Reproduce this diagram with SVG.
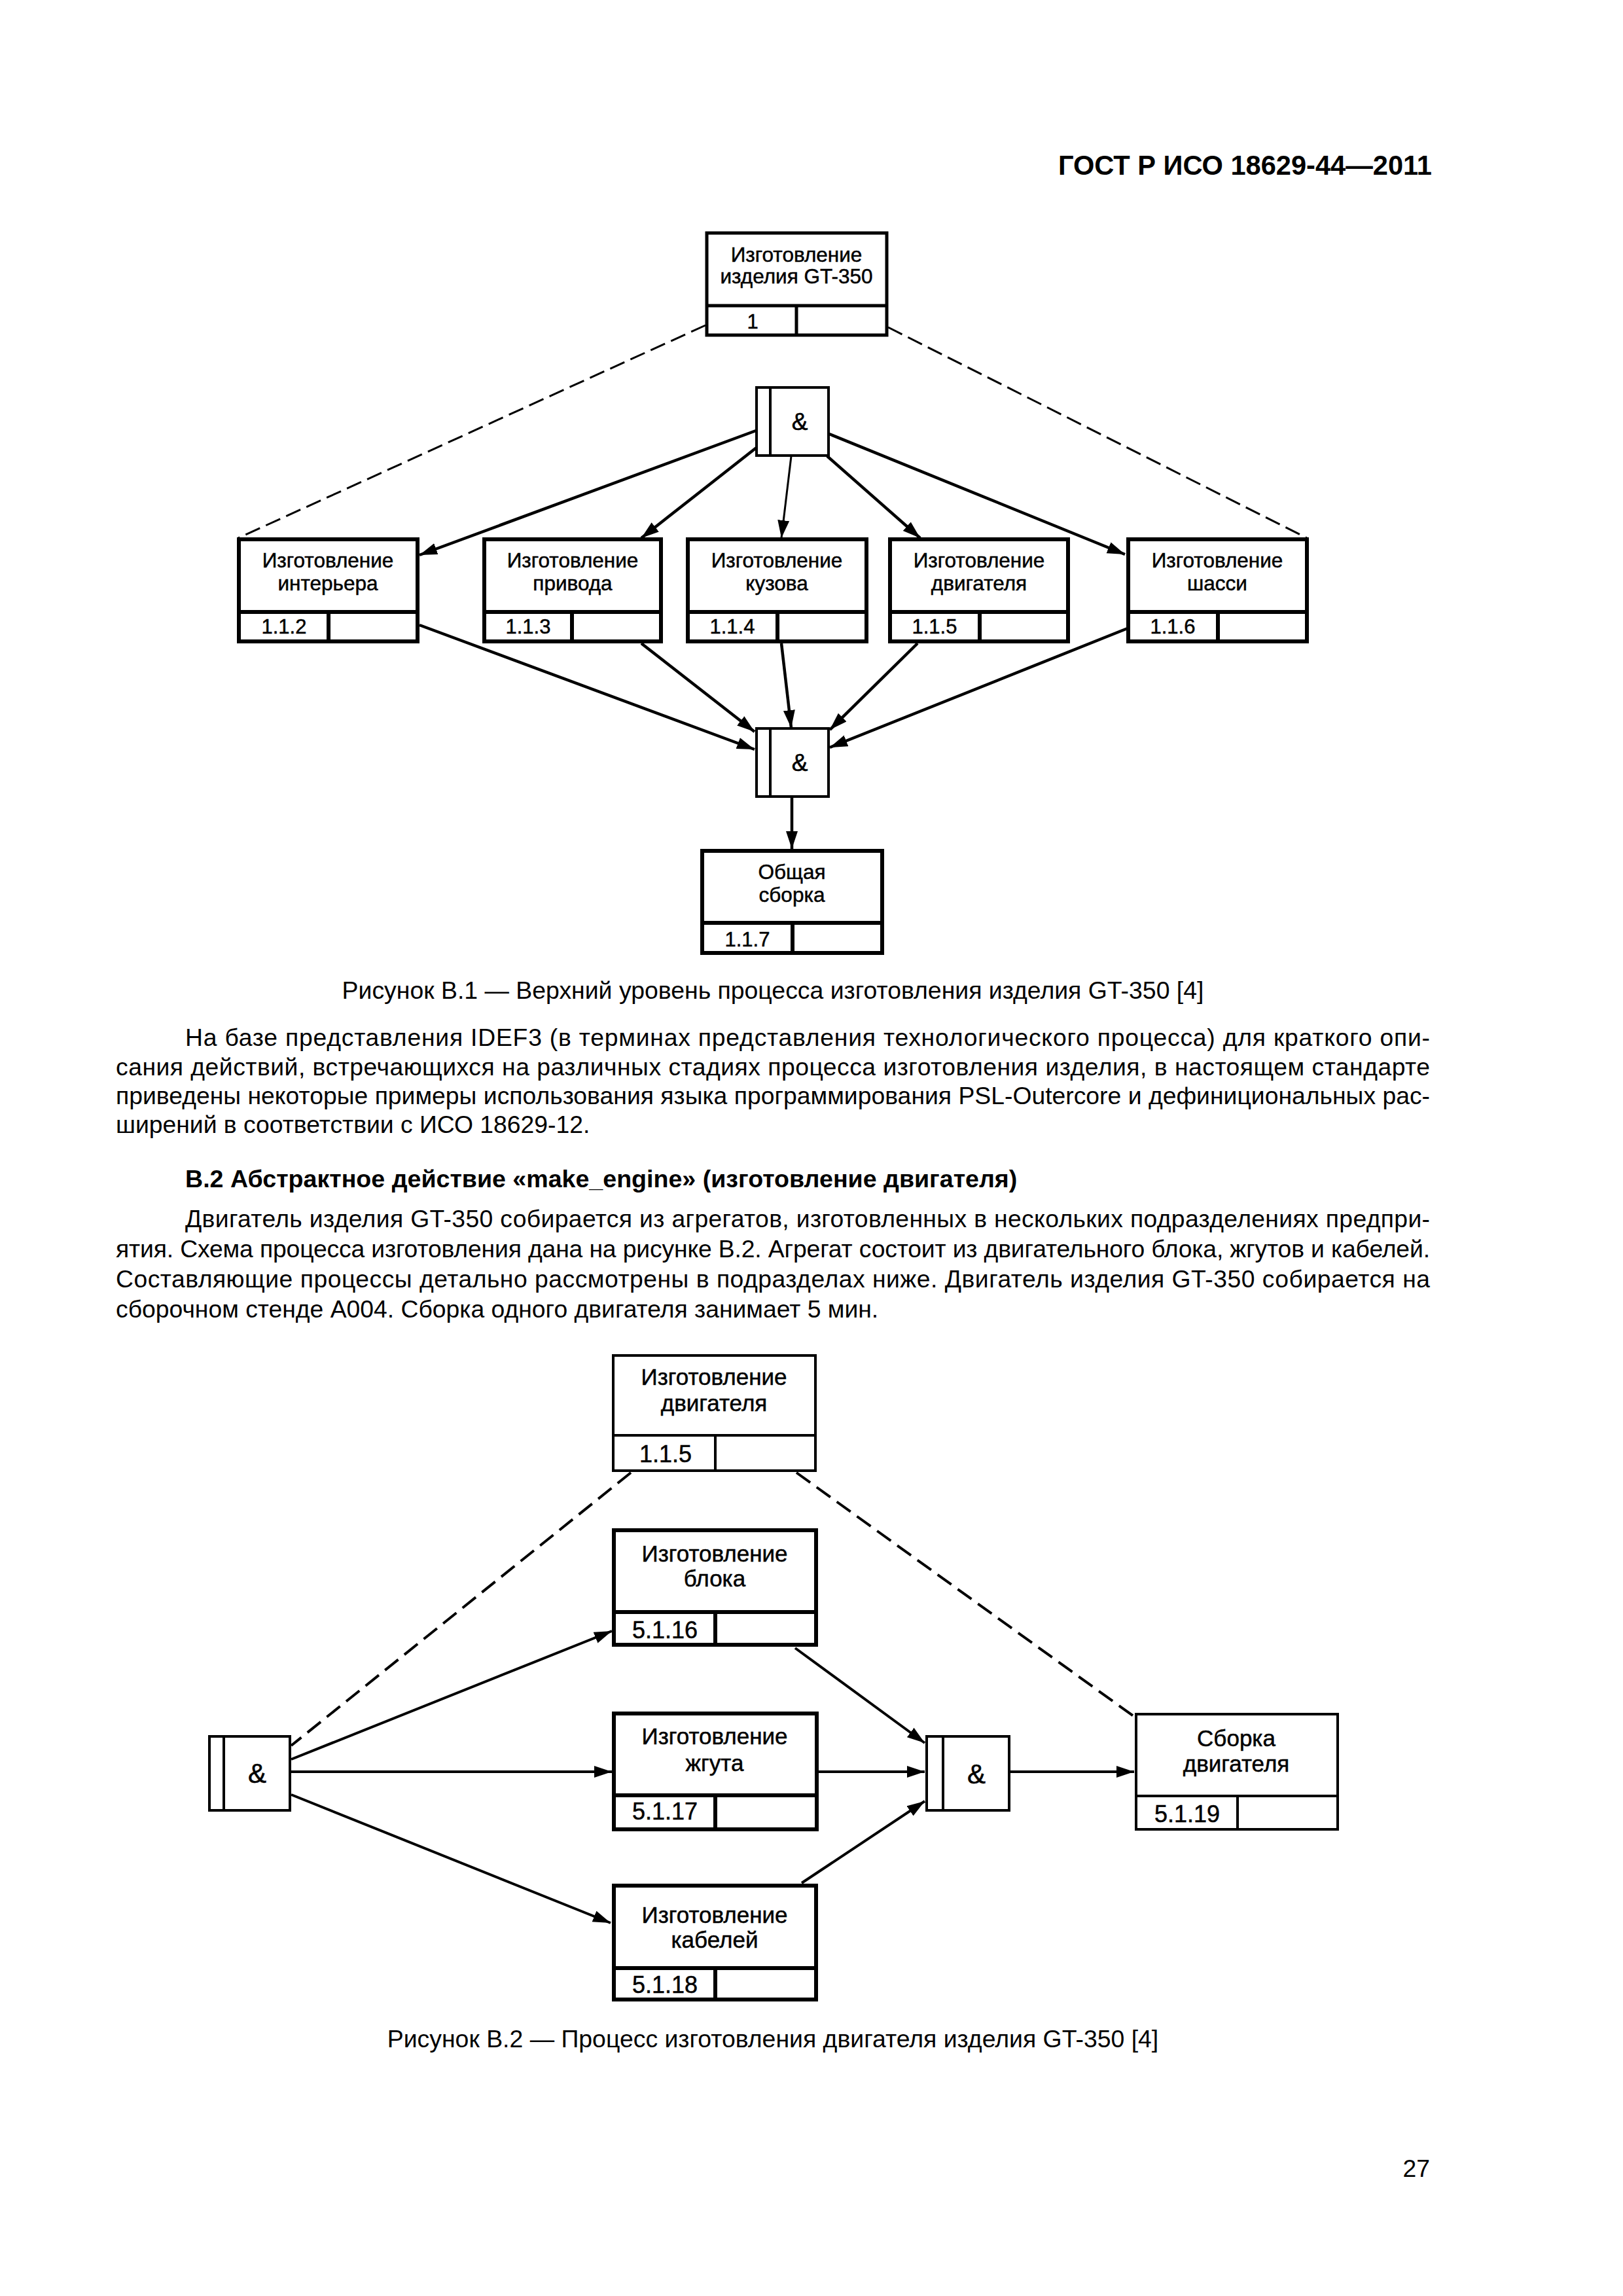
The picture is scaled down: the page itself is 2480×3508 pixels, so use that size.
<svg xmlns="http://www.w3.org/2000/svg" width="2480" height="3508" viewBox="0 0 2480 3508">
<style>
text{font-family:"Liberation Sans",Arial,sans-serif;fill:#000}
.b0{fill:#fff;stroke:#000;stroke-width:5}
.b1{fill:#fff;stroke:#000;stroke-width:6}
.b2{fill:#fff;stroke:#000;stroke-width:6}
.b3{fill:#fff;stroke:#000;stroke-width:4}
.g{fill:#fff;stroke:#000;stroke-width:4}
.dv0{stroke:#000;stroke-width:5}
.dv1{stroke:#000;stroke-width:6}
.dv2{stroke:#000;stroke-width:6}
.dv3{stroke:#000;stroke-width:4}
.t1{font-size:31.5px;text-anchor:middle;stroke:#000;stroke-width:0.5}
.n1{font-size:31px;text-anchor:middle;stroke:#000;stroke-width:0.5}
.t2{font-size:35px;text-anchor:middle;stroke:#000;stroke-width:0.5}
.n2{font-size:36px;text-anchor:middle;stroke:#000;stroke-width:0.5}
.amp1{font-size:37px;text-anchor:middle;stroke:#000;stroke-width:0.6}
.amp2{font-size:42px;text-anchor:middle;stroke:#000;stroke-width:0.6}
.body{font-size:37.3px}
.cap{font-size:37.4px;text-anchor:middle}
.hd{font-size:37.6px;font-weight:bold}
.a{stroke:#000;stroke-width:4.5;fill:none;marker-end:url(#ah)}
.a2{stroke:#000;stroke-width:4;fill:none;marker-end:url(#ah)}
.d{stroke:#000;stroke-width:3;fill:none;stroke-dasharray:24 10}
.d2{stroke:#000;stroke-width:4;fill:none;stroke-dasharray:26 12}
</style>
<defs>
<marker id="ah" markerUnits="userSpaceOnUse" markerWidth="30" markerHeight="20" refX="27" refY="9" orient="auto">
<path d="M0,0 L27,9 L0,18 z" fill="#000"/>
</marker>
</defs>

<text x="2188" y="267" font-size="41.6" font-weight="bold" text-anchor="end">ГОСТ Р ИСО 18629-44—2011</text>

<g id="connectors1">
<line class="d" x1="1078" y1="497" x2="364" y2="822"/>
<line class="d" x1="1357" y1="500" x2="1997" y2="822"/>
<line class="a" x1="1155" y1="658" x2="641" y2="848"/>
<line class="a" x1="1157" y1="683" x2="980" y2="822"/>
<line class="a" style="stroke-width:3" x1="1209" y1="697" x2="1194" y2="822"/>
<line class="a" x1="1264" y1="697" x2="1406" y2="822"/>
<line class="a" x1="1267" y1="663" x2="1719" y2="847"/>
<line class="a" x1="641" y1="955" x2="1153" y2="1145"/>
<line class="a" x1="980" y1="983" x2="1153" y2="1118"/>
<line class="a" x1="1194" y1="983" x2="1209" y2="1112"/>
<line class="a" x1="1402" y1="983" x2="1268" y2="1115"/>
<line class="a" x1="1723" y1="960" x2="1268" y2="1142"/>
<line class="a" x1="1210" y1="1217" x2="1210" y2="1297"/>
</g>

<g id="n1">
<rect class="b0" x="1080" y="356" width="275" height="156"/>
<line class="dv0" x1="1080" y1="467" x2="1355" y2="467"/>
<line class="dv0" x1="1217" y1="467" x2="1217" y2="512"/>
<text class="t1" x="1217" y="400">Изготовление</text>
<text class="t1" x="1217" y="433">изделия GT-350</text>
<text class="n1" x="1150" y="502">1</text>
</g>

<g id="gate1">
<rect class="g" x="1156" y="592" width="110" height="104"/>
<line class="dv3" x1="1177" y1="592" x2="1177" y2="696"/>
<text class="amp1" x="1222" y="657">&amp;</text>
</g>

<g id="n112">
<rect class="b1" x="365" y="824" width="273" height="156"/>
<line class="dv1" x1="365" y1="935" x2="638" y2="935"/>
<line class="dv1" x1="502" y1="935" x2="502" y2="980"/>
<text class="t1" x="501" y="867">Изготовление</text>
<text class="t1" x="501" y="902">интерьера</text>
<text class="n1" x="434" y="968">1.1.2</text>
</g>
<g id="n113">
<rect class="b1" x="740" y="824" width="270" height="156"/>
<line class="dv1" x1="740" y1="935" x2="1010" y2="935"/>
<line class="dv1" x1="874" y1="935" x2="874" y2="980"/>
<text class="t1" x="875" y="867">Изготовление</text>
<text class="t1" x="875" y="902">привода</text>
<text class="n1" x="807" y="968">1.1.3</text>
</g>
<g id="n114">
<rect class="b1" x="1051" y="824" width="273" height="156"/>
<line class="dv1" x1="1051" y1="935" x2="1324" y2="935"/>
<line class="dv1" x1="1188" y1="935" x2="1188" y2="980"/>
<text class="t1" x="1187" y="867">Изготовление</text>
<text class="t1" x="1187" y="902">кузова</text>
<text class="n1" x="1119" y="968">1.1.4</text>
</g>
<g id="n115">
<rect class="b1" x="1360" y="824" width="272" height="156"/>
<line class="dv1" x1="1360" y1="935" x2="1632" y2="935"/>
<line class="dv1" x1="1497" y1="935" x2="1497" y2="980"/>
<text class="t1" x="1496" y="867">Изготовление</text>
<text class="t1" x="1496" y="902">двигателя</text>
<text class="n1" x="1428" y="968">1.1.5</text>
</g>
<g id="n116">
<rect class="b1" x="1724" y="824" width="273" height="156"/>
<line class="dv1" x1="1724" y1="935" x2="1997" y2="935"/>
<line class="dv1" x1="1861" y1="935" x2="1861" y2="980"/>
<text class="t1" x="1860" y="867">Изготовление</text>
<text class="t1" x="1860" y="902">шасси</text>
<text class="n1" x="1792" y="968">1.1.6</text>
</g>

<g id="gate2">
<rect class="g" x="1156" y="1113" width="110" height="104"/>
<line class="dv3" x1="1177" y1="1113" x2="1177" y2="1217"/>
<text class="amp1" x="1222" y="1178">&amp;</text>
</g>

<g id="n117">
<rect class="b1" x="1073" y="1300" width="275" height="156"/>
<line class="dv1" x1="1073" y1="1410" x2="1348" y2="1410"/>
<line class="dv1" x1="1211" y1="1410" x2="1211" y2="1456"/>
<text class="t1" x="1210" y="1343">Общая</text>
<text class="t1" x="1210" y="1378">сборка</text>
<text class="n1" x="1142" y="1446">1.1.7</text>
</g>

<text class="cap" x="1181" y="1526">Рисунок В.1 — Верхний уровень процесса изготовления изделия GT-350 [4]</text>

<text class="body" x="283" y="1598" textLength="1902" lengthAdjust="spacing">На базе представления IDEF3 (в терминах представления технологического процесса) для краткого опи-</text>
<text class="body" x="177" y="1643" textLength="2008" lengthAdjust="spacing">сания действий, встречающихся на различных стадиях процесса изготовления изделия, в настоящем стандарте</text>
<text class="body" x="177" y="1687" textLength="2008" lengthAdjust="spacing">приведены некоторые примеры использования языка программирования PSL-Outercore и дефинициональных рас-</text>
<text class="body" x="177" y="1731">ширений в соответствии с ИСО 18629-12.</text>

<text class="hd" x="283" y="1814">В.2 Абстрактное действие «make_engine» (изготовление двигателя)</text>

<text class="body" x="283" y="1875" textLength="1902" lengthAdjust="spacing">Двигатель изделия GT-350 собирается из агрегатов, изготовленных в нескольких подразделениях предпри-</text>
<text class="body" x="177" y="1921" textLength="2008" lengthAdjust="spacing">ятия. Схема процесса изготовления дана на рисунке В.2. Агрегат состоит из двигательного блока, жгутов и кабелей.</text>
<text class="body" x="177" y="1967" textLength="2008" lengthAdjust="spacing">Составляющие процессы детально рассмотрены в подразделах ниже. Двигатель изделия GT-350 собирается на</text>
<text class="body" x="177" y="2013">сборочном стенде А004. Сборка одного двигателя занимает 5 мин.</text>

<g id="connectors2">
<line class="d2" x1="964" y1="2250" x2="445" y2="2667"/>
<line class="d2" x1="1217" y1="2250" x2="1732" y2="2622"/>
<line class="a2" x1="445" y1="2688" x2="935" y2="2492"/>
<line class="a2" x1="445" y1="2707" x2="935" y2="2707"/>
<line class="a2" x1="445" y1="2742" x2="933" y2="2938"/>
<line class="a2" x1="1215" y1="2518" x2="1413" y2="2663"/>
<line class="a2" x1="1251" y1="2707" x2="1413" y2="2707"/>
<line class="a2" x1="1225" y1="2877" x2="1413" y2="2752"/>
<line class="a2" x1="1543" y1="2707" x2="1733" y2="2707"/>
</g>

<g id="n115b">
<rect class="b3" x="937" y="2071" width="309" height="176"/>
<line class="dv3" x1="937" y1="2193" x2="1246" y2="2193"/>
<line class="dv3" x1="1093" y1="2193" x2="1093" y2="2247"/>
<text class="t2" x="1091" y="2116">Изготовление</text>
<text class="t2" x="1091" y="2156">двигателя</text>
<text class="n2" x="1017" y="2234">1.1.5</text>
</g>

<g id="n5116">
<rect class="b2" x="938" y="2338" width="309" height="175"/>
<line class="dv2" x1="938" y1="2463" x2="1247" y2="2463"/>
<line class="dv2" x1="1093" y1="2463" x2="1093" y2="2513"/>
<text class="t2" x="1092" y="2386">Изготовление</text>
<text class="t2" x="1092" y="2424">блока</text>
<text class="n2" x="1016" y="2503">5.1.16</text>
</g>
<g id="n5117">
<rect class="b2" x="938" y="2618" width="310" height="177"/>
<line class="dv2" x1="938" y1="2743" x2="1248" y2="2743"/>
<line class="dv2" x1="1093" y1="2743" x2="1093" y2="2795"/>
<text class="t2" x="1092" y="2665">Изготовление</text>
<text class="t2" x="1092" y="2706">жгута</text>
<text class="n2" x="1016" y="2780">5.1.17</text>
</g>
<g id="n5118">
<rect class="b2" x="938" y="2881" width="309" height="174"/>
<line class="dv2" x1="938" y1="3007" x2="1247" y2="3007"/>
<line class="dv2" x1="1093" y1="3007" x2="1093" y2="3055"/>
<text class="t2" x="1092" y="2938">Изготовление</text>
<text class="t2" x="1092" y="2976">кабелей</text>
<text class="n2" x="1016" y="3045">5.1.18</text>
</g>

<g id="gateL">
<rect class="g" x="320" y="2653" width="123" height="113"/>
<line class="dv3" x1="342" y1="2653" x2="342" y2="2766"/>
<text class="amp2" x="393" y="2724">&amp;</text>
</g>
<g id="gateR">
<rect class="g" x="1416" y="2653" width="126" height="113"/>
<line class="dv3" x1="1441" y1="2653" x2="1441" y2="2766"/>
<text class="amp2" x="1492" y="2725">&amp;</text>
</g>

<g id="n5119">
<rect class="b3" x="1736" y="2619" width="308" height="176"/>
<line class="dv3" x1="1736" y1="2744" x2="2044" y2="2744"/>
<line class="dv3" x1="1891" y1="2744" x2="1891" y2="2795"/>
<text class="t2" x="1889" y="2668">Сборка</text>
<text class="t2" x="1889" y="2707">двигателя</text>
<text class="n2" x="1814" y="2784">5.1.19</text>
</g>

<text class="cap" x="1181" y="3128">Рисунок В.2 — Процесс изготовления двигателя изделия GT-350 [4]</text>

<text x="2185" y="3326" font-size="37.3" text-anchor="end">27</text>
</svg>
